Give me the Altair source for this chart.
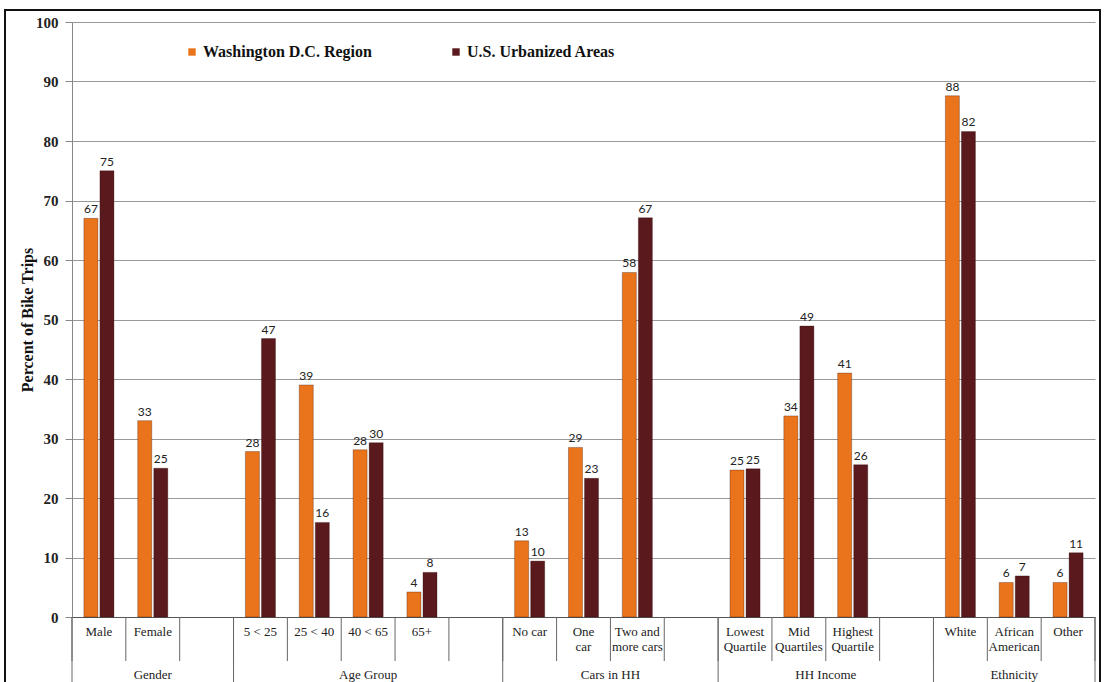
import altair as alt
import pandas as pd

# ---------------- data ----------------
groups = ["Gender", "Age Group", "Cars in HH", "HH Income", "Ethnicity"]
group_categories = [
    ["Male", "Female"],
    ["5 < 25", "25 < 40", "40 < 65", "65+"],
    ["No car", "One|car", "Two and|more cars"],
    ["Lowest|Quartile", "Mid|Quartiles", "Highest|Quartile"],
    ["White", "African|American", "Other"],
]
series = ["Washington D.C. Region", "U.S. Urbanized Areas"]
dc_values = [67, 33, 27.8, 39, 28.1, 4.2, 12.8, 28.5, 57.9, 24.7, 33.8, 41, 87.6, 5.8, 5.8]
us_values = [75, 25, 46.8, 15.9, 29.3, 7.5, 9.4, 23.3, 67.1, 24.9, 48.9, 25.6, 81.6, 6.9, 10.8]
dc_labels = ["67", "33", "28", "39", "28", "4", "13", "29", "58", "25", "34", "41", "88", "6", "6"]
us_labels = ["75", "25", "47", "16", "30", "8", "10", "23", "67", "25", "49", "26", "82", "7", "11"]
y_ticks = list(range(0, 101, 10))

# ---------------- build tables ----------------
slots = []
boundaries_group = []
group_centers = []
pos = 0
for gi, cats in enumerate(group_categories):
    start = pos
    for c in cats:
        slots.append(c)
        pos += 1
    if gi < len(groups) - 1:
        slots.append(f"gap{gi}")
        pos += 1
    boundaries_group.append(start)
    group_centers.append((start + pos) / 2)
boundaries_group.append(pos)
n_slots = pos

cats_flat = [c for cats in group_categories for c in cats]
rows = []
for c, v, l in zip(cats_flat, dc_values, dc_labels):
    rows.append({"slot": c, "series": series[0], "value": v, "label": l})
for c, v, l in zip(cats_flat, us_values, us_labels):
    rows.append({"slot": c, "series": series[1], "value": v, "label": l})
bars_df = pd.DataFrame(rows)

short_df = pd.DataFrame({"b": list(range(n_slots + 1))})
long_df = pd.DataFrame({"b": boundaries_group})
grp_df = pd.DataFrame({"center": group_centers, "group": groups})

W, H = 1023, 595
SERIF = "Liberation Serif"
orange = "#EA741B"
maroon = "#5A191C"

x_band = alt.X(
    "slot:N",
    sort=slots,
    scale=alt.Scale(domain=slots, paddingInner=0, paddingOuter=0),
    axis=alt.Axis(
        title=None,
        labelAngle=0,
        ticks=False,
        labelExpr="indexof(datum.value, 'gap') == 0 ? '' : split(datum.value, '|')",
        labelFont=SERIF,
        labelFontSize=13,
        labelColor="#222",
        labelPadding=8,
        labelLineHeight=15,
        labelLimit=200,
        domainColor="#555",
        grid=False,
    ),
)
x_band_noaxis = alt.X("slot:N", sort=slots,
                      scale=alt.Scale(domain=slots, paddingInner=0, paddingOuter=0),
                      axis=None)
x_off = alt.XOffset("series:N", sort=series,
                    scale=alt.Scale(domain=series, paddingInner=0.125, paddingOuter=0.74))
y_enc = alt.Y(
    "value:Q",
    scale=alt.Scale(domain=[0, 100], nice=False),
    axis=alt.Axis(
        title="Percent of Bike Trips",
        titleFont=SERIF,
        titleFontSize=16,
        titleFontWeight="bold",
        titleColor="#111",
        titleX=-37,
        values=y_ticks,
        labelFont=SERIF,
        labelFontSize=15,
        labelFontWeight="bold",
        labelColor="#222",
        labelPadding=7,
        tickSize=7,
        tickColor="#888",
        domainColor="#888",
        gridColor="#999999",
        gridWidth=1,
    ),
)

bars = alt.Chart(bars_df).mark_bar(stroke="#2a0a0a", strokeWidth=0.6, strokeOpacity=0.5).encode(
    x=x_band,
    xOffset=x_off,
    y=y_enc,
    color=alt.Color(
        "series:N",
        sort=series,
        scale=alt.Scale(domain=series, range=[orange, maroon]),
        legend=alt.Legend(
            title=None,
            orient="none",
            legendX=112,
            legendY=22,
            direction="horizontal",
            symbolType="square",
            symbolSize=55,
            symbolStrokeWidth=0,
            labelFont=SERIF,
            labelFontSize=16,
            labelFontWeight="bold",
            labelColor="#111",
            labelOffset=3,
            columnPadding=76,
            labelLimit=400,
            padding=0,
        ),
    ),
)

labels = alt.Chart(bars_df).mark_text(
    dy=-9, font="Lato", fontSize=12, color="#222"
).encode(
    x=x_band_noaxis,
    xOffset=x_off,
    y=alt.Y("value:Q", scale=alt.Scale(domain=[0, 100], nice=False)),
    text="label:N",
)

xq = lambda f: alt.X(f, scale=alt.Scale(domain=[0, n_slots], nice=False, zero=True), axis=None)

short_rules = alt.Chart(short_df).mark_rule(color="#666", strokeWidth=1).encode(
    x=xq("b:Q"), y=alt.value(H), y2=alt.value(H + 44)
)
long_rules = alt.Chart(long_df).mark_rule(color="#666", strokeWidth=1).encode(
    x=xq("b:Q"), y=alt.value(H), y2=alt.value(H + 80)
)
group_text = alt.Chart(grp_df).mark_text(
    font=SERIF, fontSize=13, color="#222", baseline="middle"
).encode(
    x=xq("center:Q"), y=alt.value(H + 58), text="group:N"
)
frame = alt.Chart(pd.DataFrame({"f": [1]})).mark_rect(
    fill=None, stroke="#111", strokeWidth=2
).encode(
    x=alt.value(-67), x2=alt.value(W + 5), y=alt.value(-12), y2=alt.value(H + 100)
)

chart = alt.layer(bars, labels, short_rules, long_rules, group_text, frame).resolve_scale(
    x="independent"
).properties(
    width=W,
    height=H,
    autosize=alt.AutoSizeParams(type="none"),
    padding={"left": 72, "top": 22, "right": 12, "bottom": 65},
    background="white",
).configure_view(stroke=None)

chart.save("out.html", embed_options={"renderer": "svg", "actions": False})
